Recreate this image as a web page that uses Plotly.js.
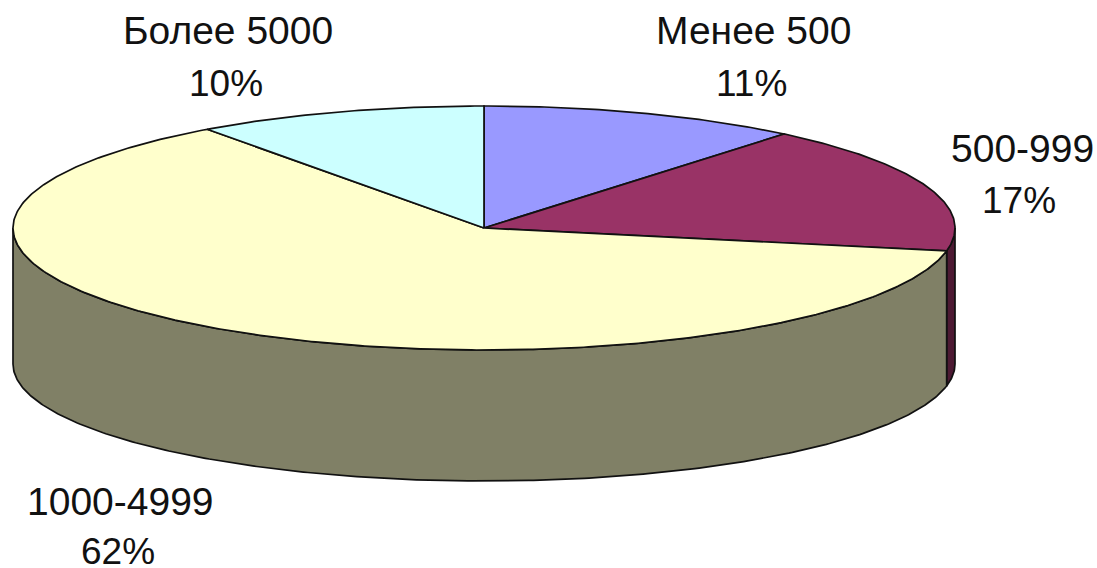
<!DOCTYPE html>
<html>
<head>
<meta charset="utf-8">
<script src="https://cdn.plot.ly/plotly-3.0.1.min.js"></script>
<style>html,body{margin:0;padding:0;background:#fff}#chart{width:1097px;height:568px}</style>
</head>
<body>
<div id="chart"></div>
<script>
// Shares of each size group, clockwise from twelve o'clock
const categories = ['Менее 500', '500-999', '1000-4999', 'Более 5000'];
const shares = [11, 17, 62, 10];

// Slice styling, same order as the categories
const topColors = ['#9999FF', '#993366', '#FFFFCC', '#CCFFFF'];
const sideColors = ['#4D4D80', '#4D1A33', '#808066', '#666680'];

// Label centres: [name x, name y, percent x, percent y]
const labelSpots = [
  [753, 30, 751, 83],
  [1022, 148, 1019, 200],
  [120, 501, 118, 551],
  [228, 30, 226, 83]
];

// Tilted disc geometry in pixel-like axis units; the lower rim sits
// a little flatter than the upper one because of the perspective
const disc = {cx: 484, cy: 228, rx: 471, ry: 122, lowerCy: 364, lowerRy: 117};
const outline = {color: '#111111', width: 1.7};
const fontFamily = '"Liberation Sans", Arial, sans-serif';

const total = shares.reduce((a, b) => a + b, 0);
const rimX = a => disc.cx + disc.rx * Math.sin(a);
const rimY = a => disc.cy - disc.ry * Math.cos(a);
const lowerY = a => disc.lowerCy - disc.lowerRy * Math.cos(a);

function arc(from, to) {
  const n = Math.max(2, Math.ceil(Math.abs(to - from) / 0.01));
  const out = [];
  for (let i = 0; i <= n; i++) out.push(from + (to - from) * i / n);
  return out;
}

const sideTraces = [];
const topTraces = [];
let cumulative = 0;
shares.forEach((share, i) => {
  const start = cumulative / total * 2 * Math.PI;
  cumulative += share;
  const end = cumulative / total * 2 * Math.PI;

  // Only the front half of the rim (quarter past to quarter to) shows a wall
  const wallFrom = Math.max(start, Math.PI / 2);
  const wallTo = Math.min(end, 3 * Math.PI / 2);
  if (wallTo > wallFrom) {
    const a = arc(wallFrom, wallTo);
    const back = a.slice().reverse();
    sideTraces.push({
      type: 'scatter', mode: 'lines', fill: 'toself', fillcolor: sideColors[i],
      line: outline, hoverinfo: 'skip', showlegend: false,
      x: a.map(rimX).concat(back.map(rimX), [rimX(a[0])]),
      y: a.map(rimY).concat(back.map(lowerY), [rimY(a[0])])
    });
  }

  const a = arc(start, end);
  topTraces.push({
    type: 'scatter', mode: 'lines', fill: 'toself', fillcolor: topColors[i],
    line: outline, name: categories[i], hoverinfo: 'name', showlegend: false,
    x: [disc.cx].concat(a.map(rimX), [disc.cx]),
    y: [disc.cy].concat(a.map(rimY), [disc.cy])
  });
});

const textAt = (x, y, text, size) => ({
  x, y, text, xref: 'x', yref: 'y', showarrow: false,
  xanchor: 'center', yanchor: 'middle',
  font: {family: fontFamily, size, color: '#111111'}
});
const annotations = [];
categories.forEach((name, i) => {
  const [nx, ny, px, py] = labelSpots[i];
  annotations.push(textAt(nx, ny, name, 39), textAt(px, py, shares[i] + '%', 37));
});

const hiddenAxis = {visible: false, fixedrange: true, zeroline: false, showgrid: false};
Plotly.newPlot('chart', sideTraces.concat(topTraces), {
  width: 1097, height: 568,
  margin: {l: 0, r: 0, t: 0, b: 0},
  paper_bgcolor: '#ffffff', plot_bgcolor: '#ffffff',
  xaxis: Object.assign({range: [0, 1097]}, hiddenAxis),
  yaxis: Object.assign({range: [568, 0]}, hiddenAxis),
  annotations
}, {displayModeBar: false, responsive: false});
</script>
</body>
</html>
